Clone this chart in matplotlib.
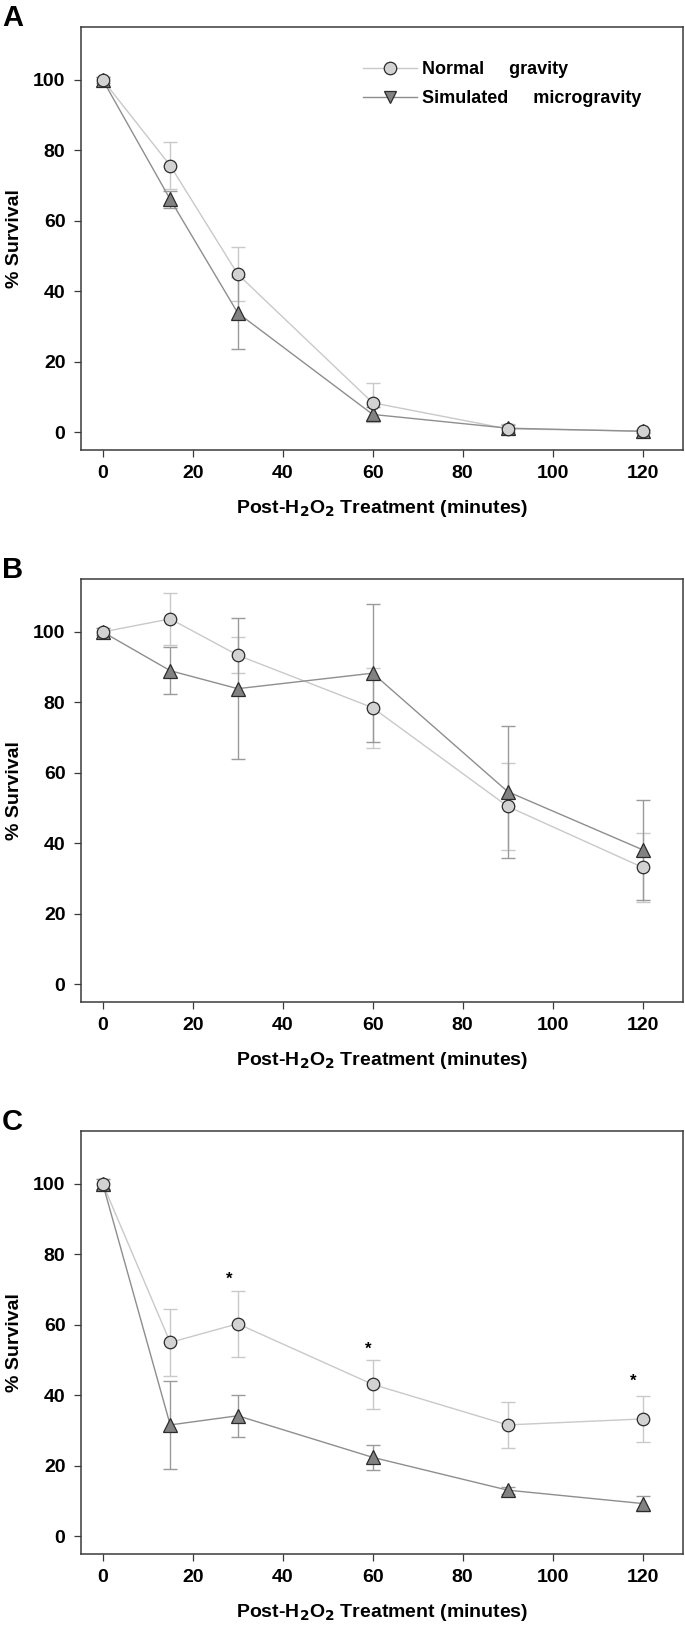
import numpy as np
import matplotlib.pyplot as plt
from matplotlib.lines import Line2D

# time points (minutes after H2O2 treatment)
minutes = [0, 15, 30, 60, 90, 120]

# panel A
a_normal = [100, 75.7, 44.9, 8.4, 1.0, 0.4]
a_normal_err = [0.8, 6.7, 7.7, 5.5, 1.5, 0.5]
a_micro = [100, 66.1, 33.9, 5.1, 1.2, 0.3]
a_micro_err = [0.8, 2.4, 10.3, 2.0, 1.0, 0.5]

# panel B
b_normal = [100, 103.7, 93.4, 78.5, 50.5, 33.2]
b_normal_err = [1.0, 7.3, 5.1, 11.3, 12.3, 9.7]
b_micro = [100, 89.0, 83.9, 88.3, 54.7, 38.2]
b_micro_err = [1.0, 6.7, 20.0, 19.6, 18.7, 14.2]

# panel C
c_normal = [100, 55.0, 60.3, 43.1, 31.6, 33.3]
c_normal_err = [1.5, 9.5, 9.4, 6.9, 6.5, 6.6]
c_micro = [100, 31.6, 34.2, 22.4, 13.1, 9.3]
c_micro_err = [1.5, 12.5, 6.0, 3.5, 1.0, 2.0]

# significance marks in panel C
star_x = [28, 59, 118]
star_y = [73, 53, 44]

xticks = [0, 20, 40, 60, 80, 100, 120]
yticks = [0, 20, 40, 60, 80, 100]

plt.rcParams['font.family'] = ['Liberation Sans Narrow', 'Liberation Sans', 'DejaVu Sans']
plt.rcParams['font.weight'] = 'bold'
plt.rcParams['mathtext.fontset'] = 'custom'
plt.rcParams['mathtext.rm'] = 'Liberation Sans Narrow:bold'
plt.rcParams['mathtext.bf'] = 'Liberation Sans Narrow:bold'

normal_line = '#c9c9c9'
micro_line = '#8e8e8e'
normal_fill = '#d2d2d2'
micro_fill = '#828282'
edge = '#2b2b2b'
spine_col = '#3a3a3a'

fig = plt.figure(figsize=(6.85, 16.27), dpi=100)

panels = [
    ('A', a_normal, a_normal_err, a_micro, a_micro_err, 0.7234),
    ('B', b_normal, b_normal_err, b_micro, b_micro_err, 0.3841),
    ('C', c_normal, c_normal_err, c_micro, c_micro_err, 0.0449),
]

for letter, nrm, nrm_err, mic, mic_err, bottom in panels:
    ax = fig.add_axes([0.1178, bottom, 0.8788, 0.26])

    ax.errorbar(minutes, nrm, yerr=nrm_err, fmt='none', ecolor=normal_line,
                elinewidth=1.0, capsize=4.8, capthick=1.0, zorder=1)
    ax.errorbar(minutes, mic, yerr=mic_err, fmt='none', ecolor='#9a9a9a',
                elinewidth=1.0, capsize=4.8, capthick=1.0, zorder=1)
    ax.plot(minutes, nrm, color=normal_line, lw=1.0, zorder=2)
    ax.plot(minutes, mic, color=micro_line, lw=1.0, zorder=2)
    ax.plot(minutes, mic, ls='none', marker='^', ms=9.5, mfc=micro_fill,
            mec=edge, mew=0.9, zorder=3)
    ax.plot(minutes, nrm, ls='none', marker='o', ms=9, mfc=normal_fill,
            mec=edge, mew=0.9, zorder=4)

    ax.set_xlim(-4.9, 128.9)
    ax.set_ylim(-5, 115)
    ax.set_xticks(xticks)
    ax.set_yticks(yticks)
    ax.tick_params(direction='out', length=5, width=0.9, color=spine_col,
                   labelsize=14, pad=6, top=False, right=False)
    for s in ax.spines.values():
        s.set_color(spine_col)
        s.set_linewidth(1.1)

    ax.set_xlabel('Post-H$_\\mathbf{2}$O$_\\mathbf{2}$ Treatment (minutes)',
                  fontsize=14, fontweight='bold', labelpad=11)
    ax.set_ylabel('% Survival', fontsize=14, fontweight='bold')
    ax.yaxis.set_label_coords(-0.096, 0.5)

    top = bottom + 0.26
    fig.text(0.003, top + 1.0 / 1627, letter, fontsize=21, fontweight='bold',
             family=['Liberation Sans', 'DejaVu Sans'], va='baseline', ha='left')

    if letter == 'A':
        handles = [
            Line2D([], [], color=normal_line, lw=1.0, marker='o', ms=9,
                   mfc=normal_fill, mec=edge, mew=0.9),
            Line2D([], [], color=micro_line, lw=1.0, marker='v', ms=9,
                   mfc=micro_fill, mec=edge, mew=0.9),
        ]
        ax.legend(handles, ['Normal     gravity', 'Simulated     microgravity'],
                  loc='upper left', bbox_to_anchor=(0.469, 0.92),
                  frameon=False, borderpad=0, borderaxespad=0,
                  handlelength=3.0, handletextpad=0.25, labelspacing=0.7,
                  prop={'family': ['Liberation Sans', 'DejaVu Sans'],
                        'weight': 'bold', 'size': 13})

    if letter == 'C':
        for sx, sy in zip(star_x, star_y):
            ax.text(sx, sy, '*', fontsize=12, fontweight='bold',
                    ha='center', va='center',
                    family=['Liberation Sans', 'DejaVu Sans'])

fig.savefig('out.png', dpi=100)
